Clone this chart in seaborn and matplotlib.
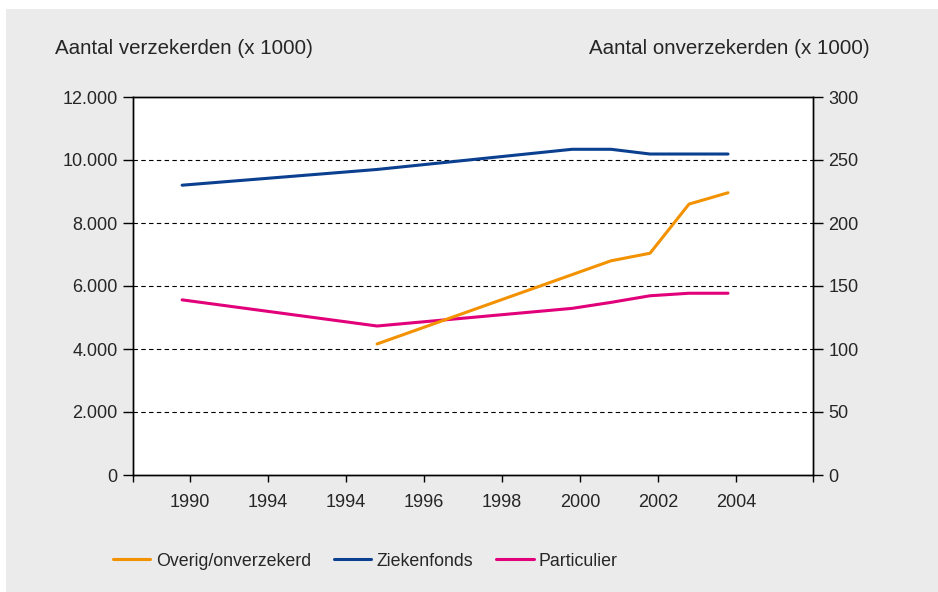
"""
Aantal verzekerden naar soort verzekering, 1990-2004.
Ziekenfonds en particulier op de linker as, onverzekerd op de rechter as.
"""
import numpy as np
import pandas as pd
import matplotlib.pyplot as plt
import seaborn as sns
from matplotlib.patches import Rectangle
from matplotlib.ticker import FuncFormatter

# Data (x 1000)
years = [1990, 1995, 2000, 2001, 2002, 2003, 2004]
ziekenfonds = [9200, 9700, 10340, 10340, 10190, 10190, 10190]
particulier = [5560, 4730, 5290, 5480, 5690, 5770, 5770]

years_onverzekerd = [1995, 2000, 2001, 2002, 2003, 2004]
onverzekerd = [104, 159, 170, 176, 215, 224]

# x axis labels as printed in the source (including the double 1994)
tick_labels = ['1990', '1994', '1994', '1996', '1998', '2000', '2002', '2004']
left_ticks = [0, 2000, 4000, 6000, 8000, 10000, 12000]
right_ticks = [0, 50, 100, 150, 200, 250, 300]

ORANGE = '#f39200'
NAVY = '#0b3f8f'
PINK = '#e2007a'
BG = '#ebebeb'

sns.set_theme(style='white')
plt.rcParams['font.family'] = ['Liberation Sans', 'DejaVu Sans']

fig = plt.figure(figsize=(9.38, 5.92), dpi=100, facecolor='white')
# grey panel behind everything
fig.patches.append(Rectangle((6 / 938, 0), 1, 1 - 9 / 592,
                             transform=fig.transFigure, facecolor=BG,
                             edgecolor='none', zorder=-10))

ax = fig.add_axes([133 / 938, 1 - 475 / 592, 680 / 938, 378 / 592])
ax2 = ax.twinx()

df_left = pd.DataFrame({'jaar': years, 'Ziekenfonds': ziekenfonds,
                        'Particulier': particulier})
df_right = pd.DataFrame({'jaar': years_onverzekerd,
                         'Overig/onverzekerd': onverzekerd})

sns.lineplot(data=df_left, x='jaar', y='Ziekenfonds', ax=ax, color=NAVY,
             lw=2.2, label='Ziekenfonds', legend=False)
sns.lineplot(data=df_left, x='jaar', y='Particulier', ax=ax, color=PINK,
             lw=2.2, label='Particulier', legend=False)
sns.lineplot(data=df_right, x='jaar', y='Overig/onverzekerd', ax=ax2,
             color=ORANGE, lw=2.2, label='Overig/onverzekerd', legend=False)

# Axes ranges
x_lo, x_hi = 1988.74, 2006.18
ax.set_xlim(x_lo, x_hi)
ax.set_ylim(0, 12000)
ax2.set_ylim(0, 300)

# Dashed gridlines (not on the frame)
for v in left_ticks[1:-1]:
    ax.axhline(v, color='black', lw=0.8, ls=(0, (4, 3)), zorder=0)

ax.set_facecolor('white')
for a in (ax, ax2):
    for s in a.spines.values():
        s.set_visible(True)
        s.set_color('black')
        s.set_linewidth(1.0)
    a.set_xlabel('')
    a.set_ylabel('')

dot_fmt = FuncFormatter(lambda v, p: f'{int(v):,}'.replace(',', '.'))
ax.set_yticks(left_ticks)
ax.yaxis.set_major_formatter(dot_fmt)
ax2.set_yticks(right_ticks)

tick_pos = list(np.arange(1990, 2005, 2) + 0.2)
ax.set_xticks([x_lo] + tick_pos + [x_hi])
ax.set_xticklabels([''] + tick_labels + [''])

ax.tick_params(axis='y', which='major', direction='out', length=7, width=1,
               color='black', left=True, labelsize=13, pad=4)
ax.tick_params(axis='x', which='major', direction='out', length=5, width=1,
               color='black', bottom=True, labelsize=13, pad=9)
ax2.tick_params(axis='y', which='major', direction='out', length=7, width=1,
                color='black', right=True, labelsize=13, pad=4)

fig.text(55 / 938, 1 - 49 / 592, 'Aantal verzekerden (x 1000)',
         fontsize=14.8, ha='left', va='center')
fig.text(870 / 938, 1 - 49 / 592, 'Aantal onverzekerden (x 1000)',
         fontsize=14.8, ha='right', va='center')

# Legend below the plot
h1, l1 = ax.get_legend_handles_labels()
h2, l2 = ax2.get_legend_handles_labels()
handles = h2 + h1
labels = l2 + l1
fig.legend(handles, labels, loc='center left', ncol=3, frameon=False,
           bbox_to_anchor=(113 / 938, 1 - 561 / 592), fontsize=12.8,
           handlelength=2.1, handletextpad=0.3, columnspacing=1.3,
           borderpad=0, borderaxespad=0)

fig.savefig('out.png', dpi=100, facecolor='white')
